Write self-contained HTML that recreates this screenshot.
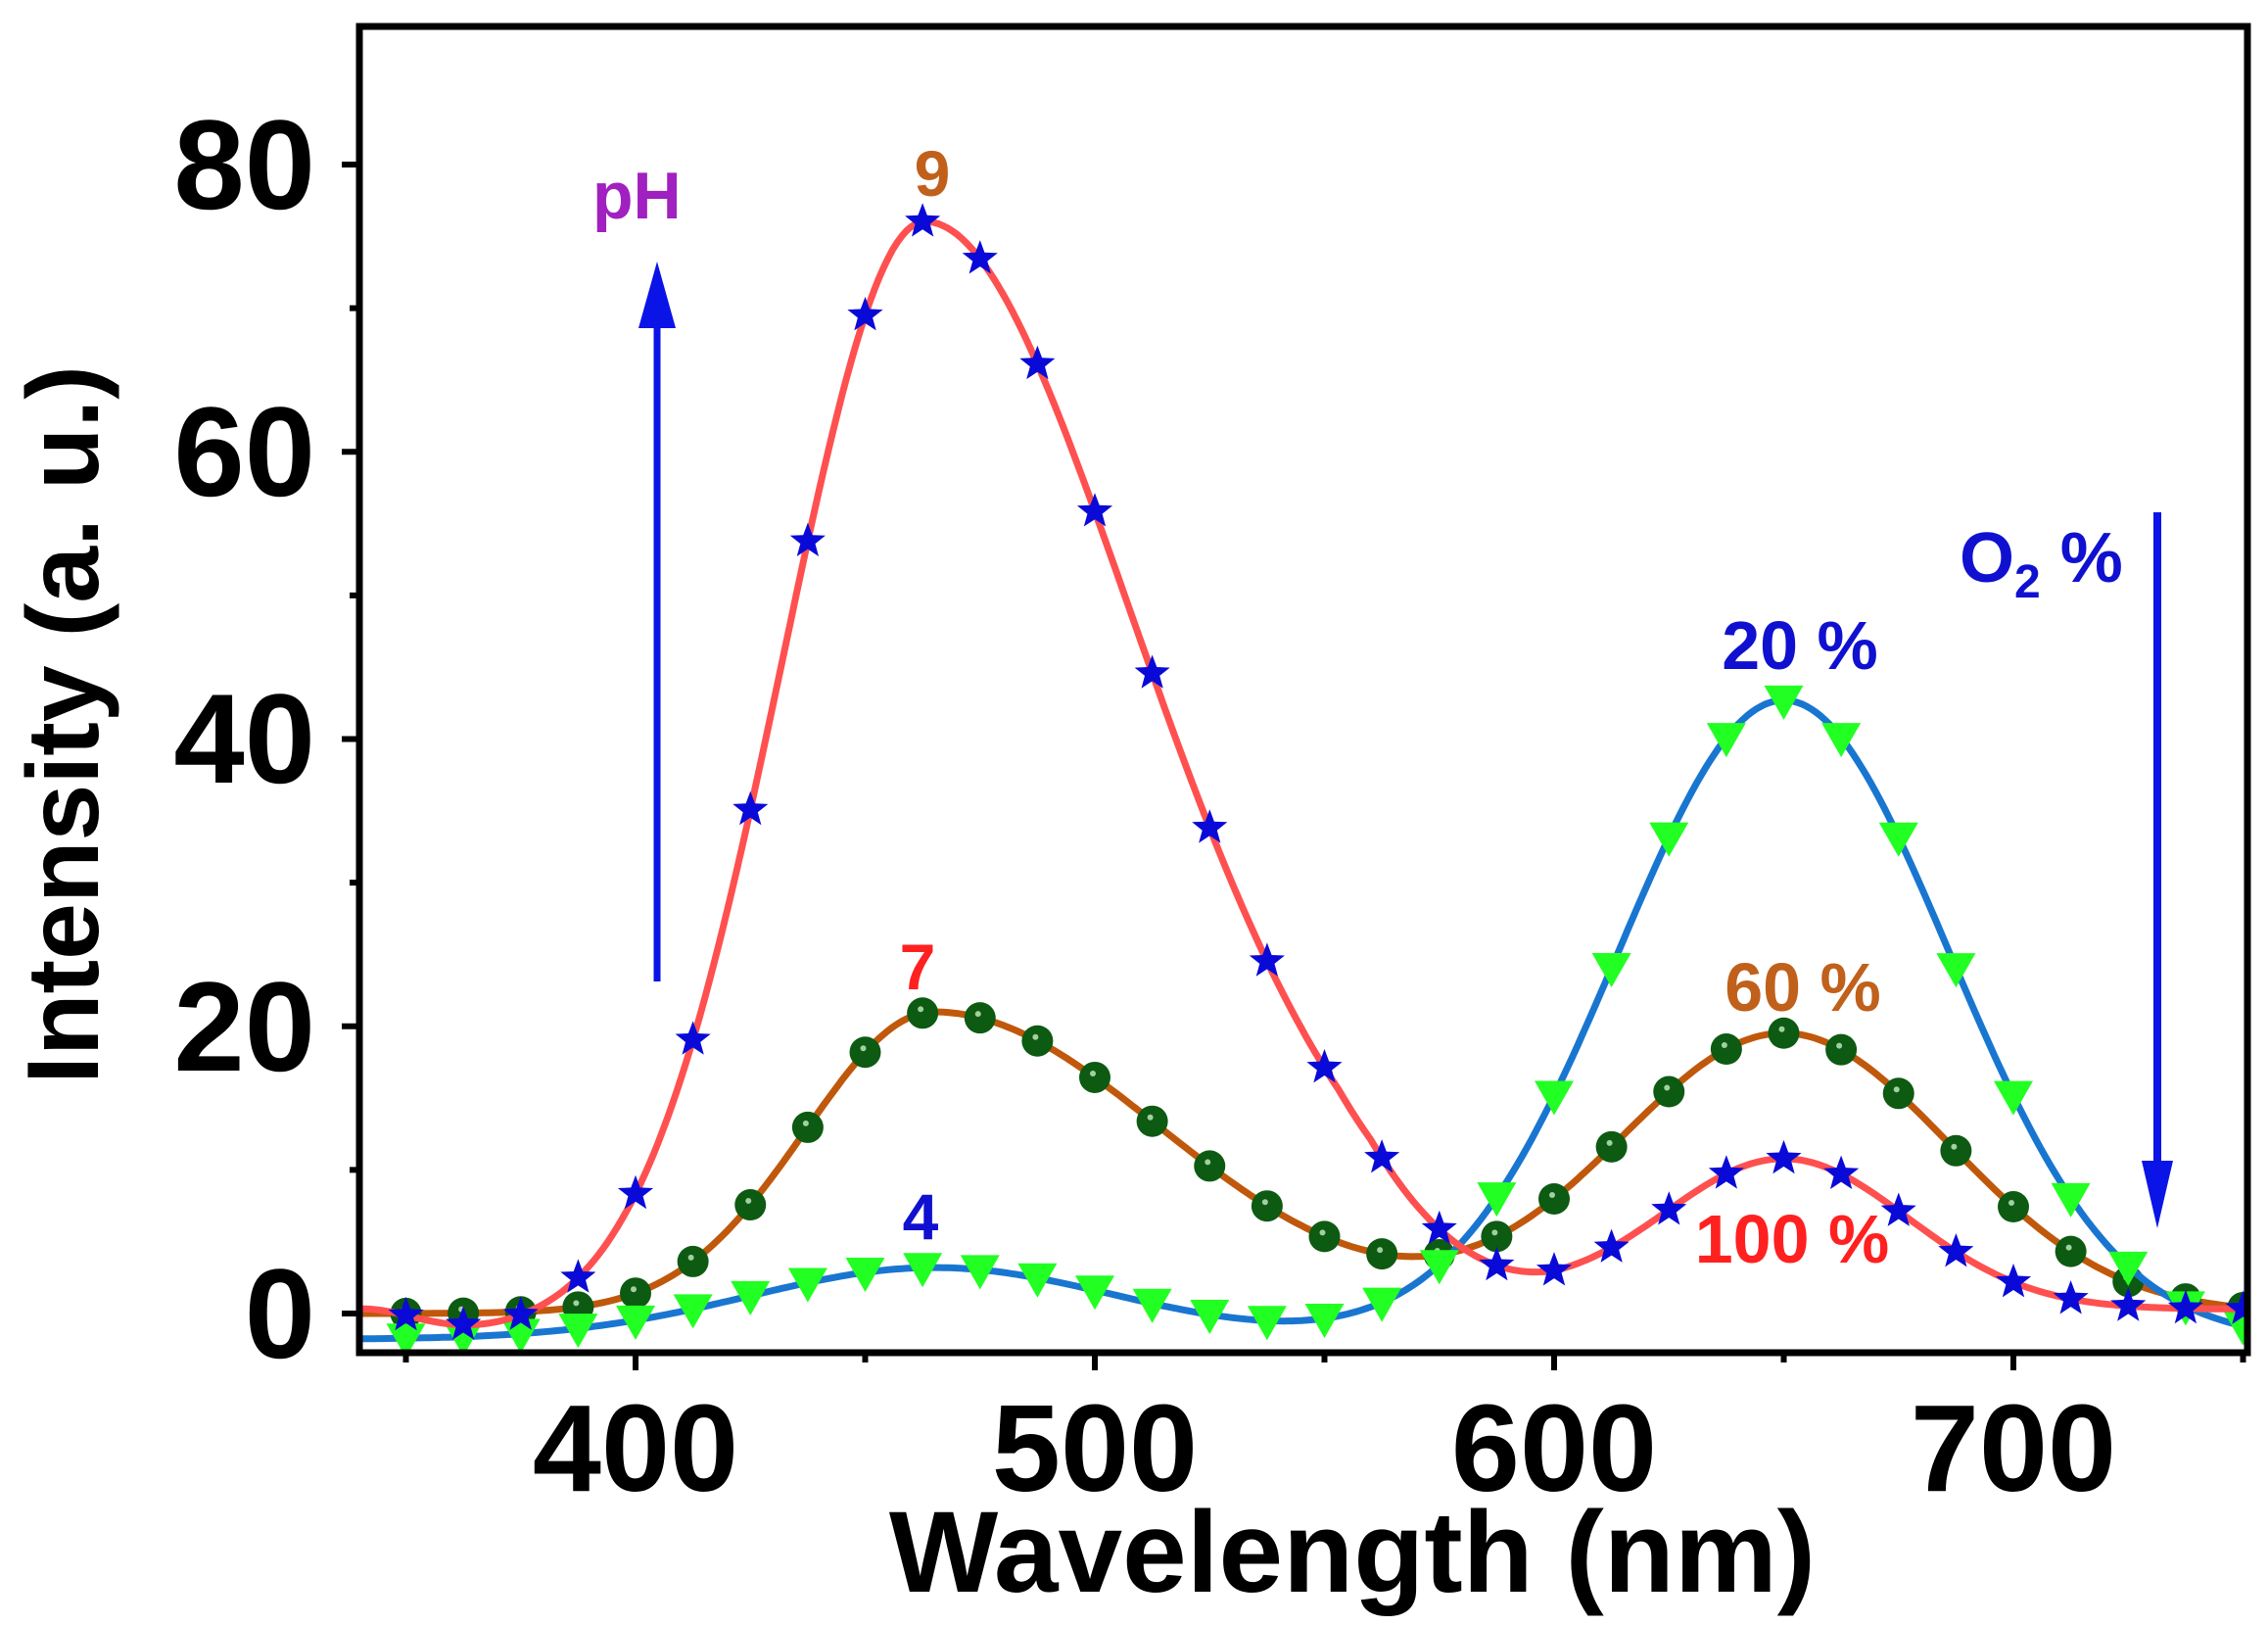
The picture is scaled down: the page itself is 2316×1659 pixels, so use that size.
<!DOCTYPE html>
<html><head><meta charset="utf-8">
<style>
html,body{margin:0;padding:0;background:#fff;}
svg{display:block;}
text{font-family:"Liberation Sans",Arial,sans-serif;font-weight:bold;}
</style></head>
<body>
<svg id="s" width="2316" height="1659" viewBox="0 0 2316 1659" xmlns="http://www.w3.org/2000/svg">
<defs><clipPath id="c"><rect x="367" y="27" width="1928" height="1354"/></clipPath></defs>
<g id="plot" clip-path="url(#c)"></g>
<rect x="367" y="27" width="1928" height="1354" fill="none" stroke="#000" stroke-width="7"/>
<g id="ticks" stroke="#000" stroke-width="6"></g>
<g font-size="130" text-anchor="end" fill="#000">
<text x="322" y="1386">0</text>
<text x="322" y="1093">20</text>
<text x="322" y="799">40</text>
<text x="322" y="506">60</text>
<text x="322" y="213">80</text>
</g>
<g font-size="126" text-anchor="middle" fill="#000">
<text x="649" y="1522">400</text>
<text x="1118" y="1522">500</text>
<text x="1587" y="1522">600</text>
<text x="2056" y="1522">700</text>
</g>
<text x="1381" y="1625" font-size="118" text-anchor="middle">Wavelength (nm)</text>
<text transform="translate(100,740) rotate(-90)" font-size="104" text-anchor="middle">Intensity (a. u.)</text>
<text x="605" y="223" font-size="68" fill="#a020c0">pH</text>
<line x1="671" y1="1002" x2="671" y2="320" stroke="#0a14e6" stroke-width="7"/>
<polygon points="671,267 652,335 690,335" fill="#0a14e6"/>
<text x="952" y="200" font-size="66" fill="#c0601a" text-anchor="middle">9</text>
<text x="937" y="1010" font-size="66" fill="#ff2020" text-anchor="middle">7</text>
<text x="940" y="1265" font-size="66" fill="#1010d0" text-anchor="middle">4</text>
<text x="1838" y="683" font-size="70" fill="#1010d0" text-anchor="middle">20 %</text>
<text x="1841" y="1032" font-size="70" fill="#c0601a" text-anchor="middle">60 %</text>
<text x="1830" y="1289" font-size="70" fill="#ff2020" text-anchor="middle">100 %</text>
<text x="2001" y="594" font-size="72" fill="#1010d0">O<tspan font-size="48" dy="16">2</tspan><tspan dy="-16"> %</tspan></text>
<line x1="2203" y1="523" x2="2203" y2="1190" stroke="#0a14e6" stroke-width="8"/>
<polygon points="2203,1254 2187,1185 2219,1185" fill="#0a14e6"/>
</svg>
<script>
var X=function(w){return 649+(w-400)*4.69;};
var Y=function(v){return 1341-v*14.6625;};
function g(x,m,s){return Math.exp(-(x-m)*(x-m)/(2*s*s));}
function ga(x,m,sl,sr){return g(x,m,x<m?sl:sr);}
function sig(x,m,s){return 1/(1+Math.exp(-(x-m)/s));}
function sr(x){var s=45+6*Math.min(1,(x-463)/90);s-=4*Math.min(1,Math.max(0,(x-560)/40));return s;}
function red(x){return -1.8*(1-sig(x,560,25))+0.3+(x<463?77.5*g(x,463,31):77.5*g(x,463,sr(x)))+10.5*g(x,650,27)+1.8*g(x,340,12);}
function brown(x){return 21*ga(x,465,28,50)+19.5*g(x,650,36);}
function blue(x){return -1.8+5*g(x,465,40)+44.5*g(x,650,36);}
var plot=document.getElementById('plot');var NS='http://www.w3.org/2000/svg';
function add(tag,attrs){var e=document.createElementNS(NS,tag);for(var k in attrs)e.setAttribute(k,attrs[k]);plot.appendChild(e);return e;}
function path(f,col){var d='';for(var x=340;x<=755;x+=1){d+=(x==340?'M':'L')+X(x).toFixed(1)+','+Y(f(x)).toFixed(1);}add('path',{d:d,fill:'none',stroke:col,'stroke-width':7});}
function star(cx,cy,r){var p='';for(var i=0;i<10;i++){var a=-Math.PI/2+i*Math.PI/5;var rr=i%2?r*0.42:r;p+=(cx+rr*Math.cos(a)).toFixed(1)+','+(cy+rr*Math.sin(a)).toFixed(1)+' ';}add('polygon',{points:p,fill:'#0a0ad8'});}
var xs=[];for(var w=350;w<=751;w+=12.5)xs.push(w);
path(brown,'#c0580c');
xs.forEach(function(w){var cx=X(w),cy=Y(brown(w));add('circle',{cx:cx,cy:cy,r:16,fill:'#0d5a12'});add('circle',{cx:cx-2,cy:cy-4,r:3,fill:'#a0d0a0'});});
path(blue,'#1976d0');
xs.forEach(function(w){var cx=X(w),cy=Y(blue(w));add('polygon',{points:(cx-20)+','+(cy-15)+' '+(cx+20)+','+(cy-15)+' '+cx+','+(cy+20),fill:'#22ff22'});});
path(red,'#ff5050');
xs.forEach(function(w){star(X(w),Y(red(w)),19);});
var t=document.getElementById('ticks');
function tk(x1,y1,x2,y2){var e=document.createElementNS(NS,'line');e.setAttribute('x1',x1);e.setAttribute('y1',y1);e.setAttribute('x2',x2);e.setAttribute('y2',y2);t.appendChild(e);}
for(var w=350;w<=750;w+=50){var maj=(w%100==0);tk(X(w),1381,X(w),1381+(maj?18:10));}
for(var v=0;v<=80;v+=10){var maj=(v%20==0);tk(367,Y(v),367-(maj?18:10),Y(v));}
</script>
</body></html>
